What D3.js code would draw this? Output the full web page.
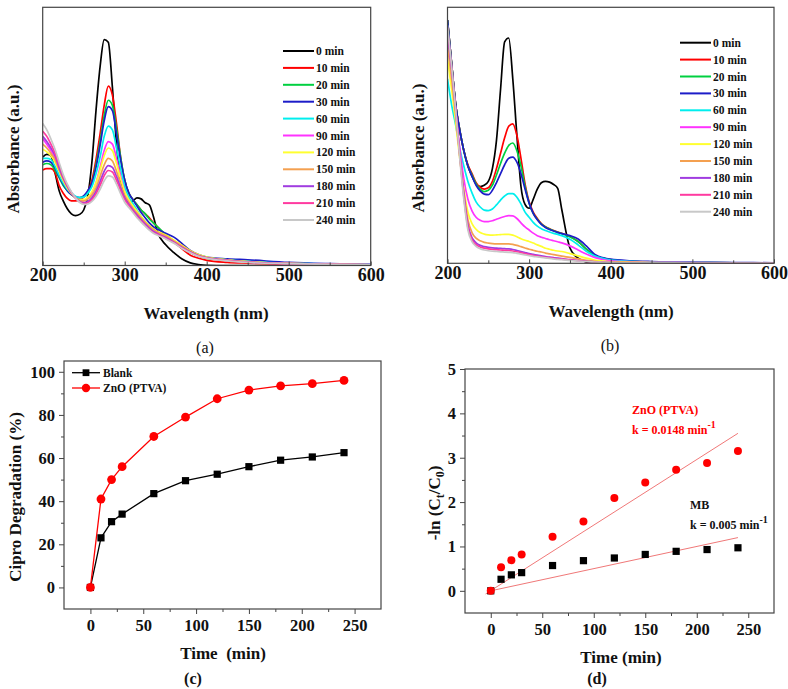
<!DOCTYPE html>
<html>
<head>
<meta charset="utf-8">
<script src="https://cdn.jsdelivr.net/npm/d3@7"></script>
<style>
  body { margin: 0; background: #fff; }
  svg { font-family: "Liberation Serif", "Times New Roman", serif; font-weight: bold; }
</style>
</head>
<body>
<script>
// ---- spectra data (absorbance, arbitrary units) ----
const wl = [200,205,210,215,220,225,230,235,240,245,250,255,260,265,270,275,280,285,290,295,
            300,305,310,315,320,325,330,335,340,350,360,370,380,390,400,425,450,500,550,600];
const times = ["0 min","10 min","20 min","30 min","60 min","90 min","120 min","150 min","180 min","210 min","240 min"];

// panel (a)
const a0   = [.42,.43,.425,.36,.29,.25,.22,.2,.193,.198,.215,.27,.4,.6,.77,.875,.865,.69,.47,.33,.27,.245,.25,.262,.258,.243,.235,.19,.13,.08,.05,.025,.01,.004,.001,0,0,0,0,0];
const a10  = [.37,.375,.375,.36,.31,.28,.26,.25,.25,.255,.265,.285,.33,.41,.51,.62,.695,.66,.55,.42,.33,.28,.255,.235,.215,.2,.185,.165,.15,.115,.09,.065,.04,.028,.02,.012,.009,.005,.003,.002];
const a20  = [.39,.395,.39,.37,.34,.31,.29,.275,.265,.262,.268,.285,.32,.39,.48,.58,.64,.62,.53,.42,.33,.28,.255,.235,.215,.2,.18,.165,.15,.12,.095,.07,.05,.037,.028,.02,.015,.008,.005,.003];
const a30  = [.40,.405,.40,.38,.345,.315,.29,.275,.265,.263,.27,.29,.32,.38,.465,.56,.615,.6,.51,.41,.33,.28,.255,.23,.205,.185,.165,.15,.14,.125,.11,.085,.058,.042,.033,.026,.022,.012,.007,.004];
const a60  = [.415,.415,.41,.385,.35,.32,.295,.28,.268,.263,.265,.28,.305,.355,.42,.5,.54,.525,.455,.375,.305,.265,.24,.215,.19,.17,.155,.14,.13,.115,.095,.075,.055,.04,.032,.022,.016,.009,.005,.003];
const a90  = [.49,.47,.445,.415,.375,.335,.305,.28,.262,.252,.25,.26,.28,.32,.38,.445,.48,.47,.415,.345,.285,.25,.225,.2,.18,.16,.145,.133,.125,.11,.09,.07,.052,.038,.03,.02,.014,.008,.005,.003];
const a120 = [.45,.44,.425,.4,.365,.33,.3,.278,.262,.255,.255,.265,.285,.32,.37,.425,.455,.445,.395,.335,.285,.255,.23,.21,.19,.17,.155,.142,.132,.118,.098,.078,.057,.042,.033,.022,.015,.008,.005,.003];
const a150 = [.47,.455,.435,.41,.37,.335,.305,.28,.262,.252,.25,.257,.272,.3,.345,.39,.415,.405,.365,.315,.27,.245,.222,.203,.185,.167,.152,.14,.13,.115,.095,.075,.055,.04,.031,.021,.014,.008,.005,.003];
const a180 = [.50,.48,.455,.425,.38,.34,.308,.282,.262,.248,.243,.248,.262,.287,.325,.365,.387,.38,.345,.3,.262,.237,.215,.195,.177,.16,.145,.132,.123,.108,.09,.07,.052,.038,.03,.02,.013,.007,.004,.003];
const a210 = [.52,.5,.47,.435,.39,.345,.31,.283,.262,.246,.24,.243,.255,.277,.31,.348,.368,.362,.33,.29,.255,.232,.21,.19,.172,.155,.14,.128,.12,.105,.088,.068,.05,.037,.029,.019,.013,.007,.004,.003];
const a240 = [.55,.525,.49,.45,.4,.352,.315,.285,.262,.245,.237,.238,.248,.267,.295,.328,.347,.343,.315,.278,.245,.225,.205,.185,.168,.152,.137,.125,.117,.103,.086,.066,.049,.036,.028,.018,.012,.007,.004,.003];

// panel (b)
const b0   = [.95,.78,.62,.52,.44,.38,.34,.31,.3,.305,.32,.37,.48,.68,.865,.88,.72,.5,.3,.23,.215,.25,.29,.315,.32,.317,.308,.293,.21,.06,.02,.005,0,0,0,0,0,0,0,0];
const b10  = [.95,.78,.62,.52,.44,.385,.35,.315,.297,.29,.295,.32,.37,.43,.49,.535,.545,.5,.41,.31,.24,.2,.175,.155,.143,.135,.128,.122,.117,.105,.085,.055,.03,.02,.014,.008,.005,.003,.002,.002];
const b20  = [.95,.78,.62,.52,.44,.38,.345,.31,.29,.28,.285,.305,.345,.39,.43,.46,.47,.44,.38,.3,.235,.195,.172,.153,.142,.134,.127,.121,.116,.104,.085,.056,.031,.02,.014,.008,.005,.003,.002,.002];
const b30  = [.95,.78,.62,.52,.44,.38,.34,.305,.283,.27,.268,.285,.315,.35,.385,.41,.415,.395,.35,.29,.235,.195,.17,.152,.14,.132,.126,.12,.116,.108,.095,.068,.036,.022,.016,.01,.007,.004,.003,.002];
const b60  = [.72,.62,.54,.45,.38,.32,.275,.24,.22,.208,.206,.212,.228,.247,.263,.272,.272,.258,.232,.2,.18,.16,.145,.135,.128,.122,.117,.113,.108,.094,.072,.047,.029,.019,.013,.008,.005,.003,.002,.002];
const b90  = [.9,.75,.6,.45,.33,.25,.205,.18,.168,.163,.163,.166,.172,.178,.183,.186,.185,.175,.158,.142,.13,.118,.108,.102,.097,.092,.088,.084,.08,.068,.052,.036,.023,.015,.01,.006,.004,.003,.002,.002];
const b120 = [.8,.68,.55,.41,.29,.2,.155,.133,.12,.114,.111,.11,.111,.112,.113,.113,.11,.104,.096,.09,.085,.079,.072,.066,.059,.055,.051,.048,.046,.038,.029,.02,.013,.009,.006,.004,.003,.002,.002,.001];
const b150 = [.85,.72,.58,.42,.28,.17,.12,.098,.088,.082,.079,.077,.076,.076,.076,.076,.074,.07,.065,.06,.055,.051,.047,.044,.04,.037,.034,.031,.028,.023,.017,.012,.008,.005,.004,.003,.002,.001,.001,.001];
const b180 = [.9,.76,.6,.43,.27,.15,.1,.08,.07,.065,.062,.06,.059,.058,.057,.056,.054,.05,.046,.042,.038,.035,.032,.029,.026,.024,.022,.02,.018,.014,.011,.008,.006,.004,.003,.002,.002,.001,.001,.001];
const b210 = [.92,.77,.6,.42,.26,.14,.092,.073,.064,.059,.056,.054,.053,.052,.051,.05,.048,.045,.042,.038,.034,.031,.028,.025,.023,.021,.019,.017,.016,.013,.01,.007,.005,.004,.003,.002,.002,.001,.001,.001];
const b240 = [.93,.77,.6,.41,.25,.13,.085,.066,.057,.052,.049,.047,.046,.045,.044,.043,.042,.039,.036,.033,.03,.027,.025,.023,.021,.019,.017,.015,.014,.011,.009,.007,.005,.004,.003,.002,.002,.001,.001,.001];

// ---- degradation data ----
const tMin = [0,10,20,30,60,90,120,150,180,210,240];
const blankDeg = [0,23,30.5,34,43.5,49.5,52.5,56,59,60.5,62.5];
const znoDeg   = [0,41,50,56,70,79,87.5,91.5,93.5,94.5,96];
const znoLn = [0,0.53,0.69,0.82,1.22,1.56,2.09,2.44,2.73,2.88,3.15];
const mbLn  = [0,0.26,0.36,0.41,0.57,0.68,0.74,0.82,0.89,0.93,0.97];
const znoFit = [[-5,-0.07],[240,3.55]];
const mbFit  = [[0,0],[240,1.2]];

const colors = ["#000000","#ff0000","#00d040","#1c1cc8","#00eeee","#ff33ff","#ffff30","#f4a050","#a03ce0","#ff3aa0","#c8c8c8"];

const svg = d3.select('body').append('svg')
  .attr('width', 788)
  .attr('height', 689);

const frameColor = '#444';

// strip d3's default sans-serif so tick labels use the serif face
function cleanAxis(a, size) {
  a.attr('font-family', null).attr('font-size', null);
  a.select('.domain').remove();
  a.selectAll('line').attr('stroke', frameColor);
  a.selectAll('text').attr('font-size', size).attr('fill', '#111');
}

function specPanel(series, box, leg, ylab, xlab, tag) {
  const x = d3.scaleLinear().domain([200, 600]).range([box.x0, box.x1]);
  const y = d3.scaleLinear().domain([0, 1]).range([box.y1, box.y0]);
  const g = svg.append('g');
  const id = 'clip' + tag;
  g.append('clipPath').attr('id', id).append('rect')
    .attr('x', box.x0).attr('y', box.y0)
    .attr('width', box.x1 - box.x0).attr('height', box.y1 - box.y0);

  const line = d3.line()
    .x((d, i) => x(wl[i]))
    .y(d => y(d))
    .curve(d3.curveMonotoneX);

  g.append('g').attr('clip-path', `url(#${id})`)
    .selectAll('path')
    .data(series)
    .enter().append('path')
    .attr('d', line)
    .attr('fill', 'none')
    .attr('stroke', (d, i) => colors[i])
    .attr('stroke-width', 1.7);

  g.append('rect')
    .attr('x', box.x0).attr('y', box.y0)
    .attr('width', box.x1 - box.x0).attr('height', box.y1 - box.y0)
    .attr('fill', 'none').attr('stroke', frameColor).attr('stroke-width', 1.2);

  const ax = g.append('g').attr('transform', `translate(0,${box.y1})`)
    .call(d3.axisBottom(x).tickValues([200, 300, 400, 500, 600]).tickSize(-4).tickPadding(3));
  cleanAxis(ax, 18);
  const mx = g.append('g').attr('transform', `translate(0,${box.y1})`)
    .call(d3.axisBottom(x).tickValues([250, 350, 450, 550]).tickSize(-3).tickFormat(''));
  cleanAxis(mx, 18);

  // legend
  const lg = g.append('g');
  times.forEach((t, i) => {
    const ly = leg.y + i * 16.9;
    lg.append('line').attr('x1', leg.x).attr('x2', leg.x + 31)
      .attr('y1', ly).attr('y2', ly)
      .attr('stroke', colors[i]).attr('stroke-width', 2);
    lg.append('text').attr('x', leg.x + 33).attr('y', ly).attr('dy', '0.35em')
      .attr('font-size', 11.5).attr('fill', '#111').text(t);
  });

  g.append('text')
    .attr('transform', `translate(${ylab.x},${ylab.y}) rotate(-90)`)
    .attr('text-anchor', 'middle').attr('dy', '0.35em')
    .attr('font-size', 17).attr('fill', '#111')
    .text('Absorbance (a.u.)');
  g.append('text').attr('x', xlab.x).attr('y', xlab.y)
    .attr('text-anchor', 'middle').attr('font-size', 17).attr('fill', '#111')
    .text('Wavelength (nm)');
  g.append('text').attr('x', xlab.x - 1).attr('y', xlab.y + 34)
    .attr('text-anchor', 'middle').attr('font-size', 16).attr('font-weight', 'normal')
    .attr('fill', '#111').text(`(${tag})`);
}

specPanel([a0, a10, a20, a30, a60, a90, a120, a150, a180, a210, a240],
  { x0: 42.7, x1: 370.7, y0: 7.3, y1: 265.5 },
  { x: 283, y: 51 }, { x: 13, y: 149 }, { x: 206, y: 319 }, 'a');

specPanel([b0, b10, b20, b30, b60, b90, b120, b150, b180, b210, b240],
  { x0: 447.5, x1: 774, y0: 7.3, y1: 263.3 },
  { x: 680, y: 42.7 }, { x: 418, y: 148 }, { x: 611, y: 317 }, 'b');

// ---- generic scatter/line panel ----
function axesBox(g, x, y, box, xt, xm, yt, ym, fmtY) {
  g.append('rect')
    .attr('x', box.x0).attr('y', box.y0)
    .attr('width', box.x1 - box.x0).attr('height', box.y1 - box.y0)
    .attr('fill', 'none').attr('stroke', frameColor).attr('stroke-width', 1.2);
  const bx = g.append('g').attr('transform', `translate(0,${box.y1})`)
    .call(d3.axisBottom(x).tickValues(xt).tickSize(5).tickPadding(5));
  const bm = g.append('g').attr('transform', `translate(0,${box.y1})`)
    .call(d3.axisBottom(x).tickValues(xm).tickSize(3).tickFormat(''));
  const ly = g.append('g').attr('transform', `translate(${box.x0},0)`)
    .call(d3.axisLeft(y).tickValues(yt).tickSize(5).tickPadding(4).tickFormat(fmtY));
  const lm = g.append('g').attr('transform', `translate(${box.x0},0)`)
    .call(d3.axisLeft(y).tickValues(ym).tickSize(3).tickFormat(''));
  [bx, bm, ly, lm].forEach(a => cleanAxis(a, 16.5));
}

// panel (c)
{
  const box = { x0: 64, x1: 381, y0: 361, y1: 609 };
  const x = d3.scaleLinear().domain([-25, 275]).range([box.x0, box.x1]);
  const y = d3.scaleLinear().domain([-10, 105]).range([box.y1, box.y0]);
  const g = svg.append('g');
  axesBox(g, x, y, box, [0, 50, 100, 150, 200, 250], [25, 75, 125, 175, 225],
    [0, 20, 40, 60, 80, 100], [10, 30, 50, 70, 90], d3.format('d'));

  const line = d3.line().x((d, i) => x(tMin[i])).y(d => y(d));
  g.append('path').attr('d', line(blankDeg)).attr('fill', 'none').attr('stroke', '#000').attr('stroke-width', 1.3);
  g.append('path').attr('d', line(znoDeg)).attr('fill', 'none').attr('stroke', '#ff0000').attr('stroke-width', 1.3);
  g.selectAll('.sq').data(blankDeg).enter().append('rect')
    .attr('x', (d, i) => x(tMin[i]) - 3.6).attr('y', d => y(d) - 3.6)
    .attr('width', 7.2).attr('height', 7.2).attr('fill', '#000');
  g.selectAll('.ci').data(znoDeg).enter().append('circle')
    .attr('cx', (d, i) => x(tMin[i])).attr('cy', d => y(d)).attr('r', 4.4).attr('fill', '#ff0000');

  // legend
  const lx = 72, ly1 = 372.7, ly2 = 388;
  g.append('line').attr('x1', lx).attr('x2', lx + 28).attr('y1', ly1).attr('y2', ly1).attr('stroke', '#000').attr('stroke-width', 1.3);
  g.append('rect').attr('x', lx + 14 - 3.4).attr('y', ly1 - 3.4).attr('width', 6.8).attr('height', 6.8).attr('fill', '#000');
  g.append('text').attr('x', lx + 31).attr('y', ly1).attr('dy', '0.35em').attr('font-size', 11.5).attr('fill', '#111').text('Blank');
  g.append('line').attr('x1', lx).attr('x2', lx + 28).attr('y1', ly2).attr('y2', ly2).attr('stroke', '#ff0000').attr('stroke-width', 1.3);
  g.append('circle').attr('cx', lx + 14).attr('cy', ly2).attr('r', 4.2).attr('fill', '#ff0000');
  g.append('text').attr('x', lx + 31).attr('y', ly2).attr('dy', '0.35em').attr('font-size', 11.5).attr('fill', '#111').text('ZnO (PTVA)');

  g.append('text')
    .attr('transform', 'translate(15,497) rotate(-90)')
    .attr('text-anchor', 'middle').attr('dy', '0.35em')
    .attr('font-size', 17).attr('fill', '#111')
    .text('Cipro Degradation (%)');
  g.append('text').attr('x', 223).attr('y', 659).attr('text-anchor', 'middle')
    .attr('font-size', 17).attr('fill', '#111').attr('xml:space', 'preserve').text('Time  (min)');
  g.append('text').attr('x', 193).attr('y', 684).attr('text-anchor', 'middle')
    .attr('font-size', 16).attr('fill', '#111').text('(c)');
}

// panel (d)
{
  const box = { x0: 465, x1: 774, y0: 369, y1: 613 };
  const x = d3.scaleLinear().domain([-25, 275]).range([box.x0, box.x1]);
  const y = d3.scaleLinear().domain([-0.5, 5]).range([box.y1, box.y0]);
  const g = svg.append('g');
  axesBox(g, x, y, box, [0, 50, 100, 150, 200, 250], [25, 75, 125, 175, 225],
    [0, 1, 2, 3, 4, 5], [0.5, 1.5, 2.5, 3.5, 4.5], d3.format('d'));

  const fl = d3.line().x(d => x(d[0])).y(d => y(d[1]));
  g.append('path').attr('d', fl(znoFit)).attr('stroke', '#f07878').attr('stroke-width', 1).attr('fill', 'none');
  g.append('path').attr('d', fl(mbFit)).attr('stroke', '#f07878').attr('stroke-width', 1).attr('fill', 'none');

  g.selectAll('.sq').data(mbLn).enter().append('rect')
    .attr('x', (d, i) => x(tMin[i]) - 3.6).attr('y', d => y(d) - 3.6)
    .attr('width', 7.2).attr('height', 7.2).attr('fill', '#000');
  g.selectAll('.ci').data(znoLn).enter().append('circle')
    .attr('cx', (d, i) => x(tMin[i])).attr('cy', d => y(d)).attr('r', 4).attr('fill', '#ff0000');

  g.append('text').attr('x', 632).attr('y', 414).attr('font-size', 12).attr('fill', '#ff0000').text('ZnO (PTVA)');
  const t2 = g.append('text').attr('x', 632).attr('y', 434).attr('font-size', 12).attr('fill', '#ff0000');
  t2.append('tspan').text('k = 0.0148 min');
  t2.append('tspan').attr('dy', -6).attr('font-size', 10).text('-1');
  g.append('text').attr('x', 690).attr('y', 509).attr('font-size', 12).attr('fill', '#111').text('MB');
  const t3 = g.append('text').attr('x', 690).attr('y', 529).attr('font-size', 12).attr('fill', '#111');
  t3.append('tspan').text('k = 0.005 min');
  t3.append('tspan').attr('dy', -6).attr('font-size', 10).text('-1');

  const yt = g.append('text')
    .attr('transform', 'translate(434,503) rotate(-90)')
    .attr('text-anchor', 'middle').attr('dy', '0.35em')
    .attr('font-size', 17).attr('fill', '#111');
  yt.append('tspan').text('-ln (C');
  yt.append('tspan').attr('dy', 4).attr('font-size', 12).text('t');
  yt.append('tspan').attr('dy', -4).text('/C');
  yt.append('tspan').attr('dy', 4).attr('font-size', 12).text('0');
  yt.append('tspan').attr('dy', -4).text(')');

  g.append('text').attr('x', 621).attr('y', 663).attr('text-anchor', 'middle')
    .attr('font-size', 17).attr('fill', '#111').text('Time (min)');
  g.append('text').attr('x', 597).attr('y', 684).attr('text-anchor', 'middle')
    .attr('font-size', 16).attr('fill', '#111').text('(d)');
}
</script>
</body>
</html>
